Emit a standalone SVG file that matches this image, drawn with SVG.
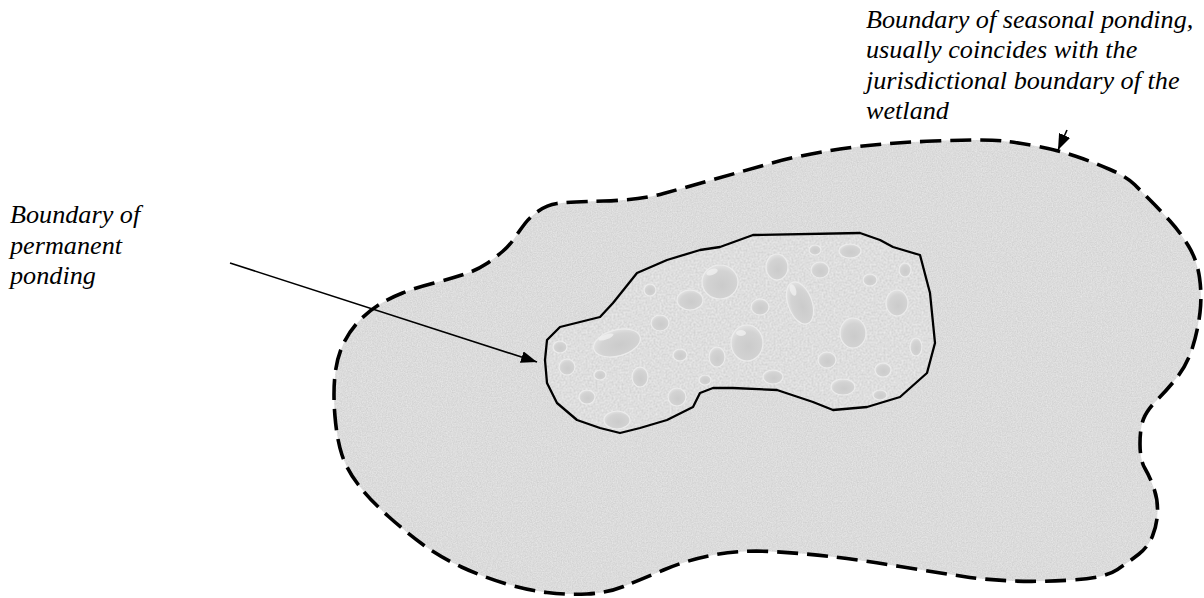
<svg xmlns="http://www.w3.org/2000/svg" width="1204" height="598" viewBox="0 0 1204 598">
<style>
.lbl{font-family:"Liberation Serif","Times New Roman",serif;font-style:italic;font-size:26.2px;fill:#000}
.outer-line{fill:none;stroke:#000;stroke-width:3.6;stroke-dasharray:21 9;stroke-linejoin:round}
.inner-line{fill:none;stroke:#000;stroke-width:2.3;stroke-linejoin:round}
.conn{stroke:#000;stroke-width:1.6;fill:none}
.drop{fill:url(#dropGrad);stroke:#ececec;stroke-width:1.2}
.hl{fill:#f2f2f2;opacity:0.75}
</style>
<defs>
<filter id="grainOuter" x="0" y="0" width="100%" height="100%" color-interpolation-filters="sRGB">
<feTurbulence type="fractalNoise" baseFrequency="0.8" numOctaves="2" seed="4" result="n"/>
<feColorMatrix in="n" type="matrix" values="0.12 0 0 0 0.8  0.12 0 0 0 0.8  0.12 0 0 0 0.8  0 0 0 0 1" result="g"/>
<feComposite in="g" in2="SourceGraphic" operator="in"/>
</filter>
<filter id="grainInner" x="0" y="0" width="100%" height="100%" color-interpolation-filters="sRGB">
<feTurbulence type="fractalNoise" baseFrequency="0.5" numOctaves="2" seed="9" result="n"/>
<feColorMatrix in="n" type="matrix" values="0.14 0 0 0 0.8  0.14 0 0 0 0.8  0.14 0 0 0 0.8  0 0 0 0 1" result="g"/>
<feComposite in="g" in2="SourceGraphic" operator="in"/>
</filter>
<radialGradient id="dropGrad" cx="0.55" cy="0.6" r="0.6">
<stop offset="0" stop-color="#cbcbcb"/>
<stop offset="0.7" stop-color="#d3d3d3"/>
<stop offset="1" stop-color="#e2e2e2"/>
</radialGradient>
<marker id="arrow" viewBox="0 0 16 12" refX="16" refY="6" markerWidth="16" markerHeight="12" markerUnits="userSpaceOnUse" orient="auto">
<path d="M0,0 L16,6 L0,12 z" fill="#000"/>
</marker>
</defs>

<g id="seasonal-boundary">
<path filter="url(#grainOuter)" fill="#d9d9d9" d="M538.5,211 Q547,205 557,203.5 Q567,202 603.5,201 Q640,200 663.5,193.5 Q687,187 713.5,179.5 Q740,172 770,163.5 Q800,155 840,149 Q880,143 933.5,141 Q987,139 1003.5,141 Q1020,143 1038.5,146.5 Q1057,150 1075,156 Q1093,162 1110,169.5 Q1127,177 1134.5,184.5 Q1142,192 1151,201 Q1160,210 1170,221 Q1180,232 1188.5,246 Q1197,260 1199.5,277.5 Q1202,295 1200,312.5 Q1198,330 1192.5,347.5 Q1187,365 1177,377.5 Q1167,390 1157,400 Q1147,410 1143.5,419 Q1140,428 1140,444 Q1140,460 1145,468.5 Q1150,477 1154,488.5 Q1158,500 1157.5,512.5 Q1157,525 1152.5,536 Q1148,547 1139,554 Q1130,561 1117.5,569.5 Q1105,578 1072.5,580 Q1040,582 1013.5,581 Q987,580 963.5,576.5 Q940,573 900,566.5 Q860,560 830,556.5 Q800,553 770,551.5 Q740,550 713.5,555 Q687,560 663.5,570 Q640,580 623.5,586.5 Q607,593 587,594 Q567,595 547,592.5 Q527,590 505,583.5 Q483,577 461.5,567 Q440,557 423.5,545 Q407,533 388.5,516.5 Q370,500 358.5,485 Q347,470 342,455 Q337,440 335,416.5 Q333,393 335,375 Q337,357 343.5,343.5 Q350,330 360,320 Q370,310 380,304 Q390,298 402.5,293 Q415,288 434,283 Q453,278 465,274 Q477,270 486,264 Q495,258 502.5,251.5 Q510,245 515,237.5 Q520,230 525,223.5 Q530,217 538.5,211 Z"/>
<path class="outer-line" d="M538.5,211 Q547,205 557,203.5 Q567,202 603.5,201 Q640,200 663.5,193.5 Q687,187 713.5,179.5 Q740,172 770,163.5 Q800,155 840,149 Q880,143 933.5,141 Q987,139 1003.5,141 Q1020,143 1038.5,146.5 Q1057,150 1075,156 Q1093,162 1110,169.5 Q1127,177 1134.5,184.5 Q1142,192 1151,201 Q1160,210 1170,221 Q1180,232 1188.5,246 Q1197,260 1199.5,277.5 Q1202,295 1200,312.5 Q1198,330 1192.5,347.5 Q1187,365 1177,377.5 Q1167,390 1157,400 Q1147,410 1143.5,419 Q1140,428 1140,444 Q1140,460 1145,468.5 Q1150,477 1154,488.5 Q1158,500 1157.5,512.5 Q1157,525 1152.5,536 Q1148,547 1139,554 Q1130,561 1117.5,569.5 Q1105,578 1072.5,580 Q1040,582 1013.5,581 Q987,580 963.5,576.5 Q940,573 900,566.5 Q860,560 830,556.5 Q800,553 770,551.5 Q740,550 713.5,555 Q687,560 663.5,570 Q640,580 623.5,586.5 Q607,593 587,594 Q567,595 547,592.5 Q527,590 505,583.5 Q483,577 461.5,567 Q440,557 423.5,545 Q407,533 388.5,516.5 Q370,500 358.5,485 Q347,470 342,455 Q337,440 335,416.5 Q333,393 335,375 Q337,357 343.5,343.5 Q350,330 360,320 Q370,310 380,304 Q390,298 402.5,293 Q415,288 434,283 Q453,278 465,274 Q477,270 486,264 Q495,258 502.5,251.5 Q510,245 515,237.5 Q520,230 525,223.5 Q530,217 538.5,211 Z"/>
</g>

<g id="permanent-ponding">
<path filter="url(#grainInner)" fill="#dddddd" d="M547,340 L560,327 L600,317 L613,303 L637,273 L667,260 L700,250 L720,247 L753,235 L860,233 L880,240 L893,247 L920,255 L930,293 L935,343 L927,373 L900,397 L867,407 L833,410 L813,402 L777,390 L733,388 L713,388 L700,393 L693,407 L667,420 L640,428 L620,433 L600,428 L577,420 L557,403 L547,383 L545,360 Z"/>
<g>
<ellipse class="drop" cx="720" cy="282" rx="18" ry="17"/>
<ellipse class="drop" cx="800" cy="303" rx="12" ry="22" transform="rotate(-20 800 303)"/>
<ellipse class="drop" cx="617" cy="343" rx="24" ry="13" transform="rotate(-15 617 343)"/>
<ellipse class="drop" cx="747" cy="343" rx="16" ry="18"/>
<ellipse class="drop" cx="690" cy="300" rx="13" ry="10"/>
<ellipse class="drop" cx="777" cy="267" rx="11" ry="13"/>
<ellipse class="drop" cx="853" cy="333" rx="13" ry="15"/>
<ellipse class="drop" cx="897" cy="303" rx="11" ry="13"/>
<ellipse class="drop" cx="660" cy="323" rx="9" ry="8"/>
<ellipse class="drop" cx="640" cy="377" rx="8" ry="10"/>
<ellipse class="drop" cx="617" cy="420" rx="13" ry="9"/>
<ellipse class="drop" cx="677" cy="397" rx="9" ry="9"/>
<ellipse class="drop" cx="843" cy="387" rx="12" ry="8"/>
<ellipse class="drop" cx="820" cy="270" rx="9" ry="8"/>
<ellipse class="drop" cx="850" cy="251" rx="11" ry="7"/>
<ellipse class="drop" cx="717" cy="357" rx="8" ry="10"/>
<ellipse class="drop" cx="567" cy="367" rx="8" ry="8"/>
<ellipse class="drop" cx="560" cy="347" rx="7" ry="6"/>
<ellipse class="drop" cx="760" cy="307" rx="9" ry="8"/>
<ellipse class="drop" cx="827" cy="360" rx="9" ry="8"/>
<ellipse class="drop" cx="916" cy="347" rx="6" ry="9"/>
<ellipse class="drop" cx="883" cy="370" rx="8" ry="7"/>
<ellipse class="drop" cx="587" cy="397" rx="8" ry="7"/>
<ellipse class="drop" cx="773" cy="377" rx="10" ry="7"/>
<ellipse class="drop" cx="680" cy="355" rx="7" ry="6"/>
<ellipse class="drop" cx="705" cy="380" rx="6" ry="5"/>
<ellipse class="drop" cx="870" cy="280" rx="7" ry="6"/>
<ellipse class="drop" cx="905" cy="270" rx="6" ry="7"/>
<ellipse class="drop" cx="815" cy="250" rx="6" ry="5"/>
<ellipse class="drop" cx="650" cy="290" rx="6" ry="6"/>
<ellipse class="drop" cx="600" cy="375" rx="6" ry="5"/>
<ellipse class="drop" cx="880" cy="395" rx="7" ry="5"/>
<ellipse class="hl" cx="712" cy="272" rx="6" ry="3" transform="rotate(-20 712 272)"/>
<ellipse class="hl" cx="606" cy="337" rx="8" ry="2.5" transform="rotate(-20 606 337)"/>
<ellipse class="hl" cx="793" cy="290" rx="3" ry="6" transform="rotate(-20 793 290)"/>
<ellipse class="hl" cx="741" cy="333" rx="5" ry="3"/>
</g>
<path class="inner-line" d="M547,340 L560,327 L600,317 L613,303 L637,273 L667,260 L700,250 L720,247 L753,235 L860,233 L880,240 L893,247 L920,255 L930,293 L935,343 L927,373 L900,397 L867,407 L833,410 L813,402 L777,390 L733,388 L713,388 L700,393 L693,407 L667,420 L640,428 L620,433 L600,428 L577,420 L557,403 L547,383 L545,360 Z"/>
</g>

<g id="connectors">
<line class="conn" x1="230" y1="263" x2="537" y2="362" marker-end="url(#arrow)"/>
<line class="conn" x1="1067" y1="130" x2="1058" y2="150" marker-end="url(#arrow)"/>
</g>

<g id="label-permanent">
<text class="lbl" x="10" y="223">Boundary of</text>
<text class="lbl" x="10" y="253.5">permanent</text>
<text class="lbl" x="10" y="284">ponding</text>
</g>

<g id="label-seasonal">
<text class="lbl" x="866" y="27.5">Boundary of seasonal ponding,</text>
<text class="lbl" x="866" y="58">usually coincides with the</text>
<text class="lbl" x="866" y="88.5">jurisdictional boundary of the</text>
<text class="lbl" x="866" y="119">wetland</text>
</g>
</svg>
